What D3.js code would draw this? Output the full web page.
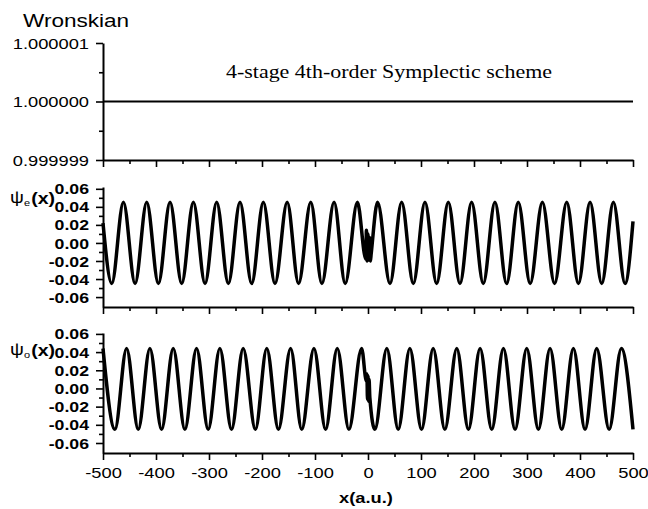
<!DOCTYPE html>
<html>
<head>
<meta charset="utf-8">
<script src="https://cdn.jsdelivr.net/npm/d3@7"></script>
<style>
body { margin: 0; background: #fff; }
svg { display: block; }
text { font-family: "Liberation Sans", Arial, sans-serif; fill: #000; }
</style>
</head>
<body>
<svg></svg>
<script>
// ---- data ----
var wronX = [-500, 500]
var wronY = [1.000000, 1.000000]
var wronTicks = [0.999999, 1.000000, 1.000001]
var wronMinor = [0.9999995, 1.0000005]

// even solution: extrema + the small glitch near x = 0
var psiEx = [-500, -483.5, -461.5, -439.5, -417.5, -395.5, -373.5, -351.5, -329.5, -307.5,
             -285.5, -263.5, -241.5, -219.5, -197.5, -175.5, -152.5, -131, -108, -87,
             -64, -43, -20, -4, -3, -1.5, 0, 1.5, 3, 4.5, 6,
             18, 41.5, 63.5, 85.5, 107.5, 129.5, 151.5, 173.5, 195.5, 217.5,
             239.5, 261.5, 283.5, 306, 329, 352, 375, 397, 419, 441, 463, 485, 500]
var psiEy = [0.022, -0.045, 0.045, -0.045, 0.045, -0.045, 0.045, -0.045, 0.045, -0.045,
             0.045, -0.045, 0.045, -0.045, 0.045, -0.045, 0.045, -0.045, 0.045, -0.045,
             0.045, -0.045, 0.045, -0.018, 0.014, -0.020, 0.010, -0.019, 0.006, -0.020, -0.012,
             0.045, -0.045, 0.045, -0.045, 0.045, -0.045, 0.045, -0.045, 0.045, -0.045,
             0.045, -0.045, 0.045, -0.045, 0.045, -0.045, 0.045, -0.045, 0.045, -0.045, 0.045, -0.045, 0.024]

// odd solution
var psiOx = [-500, -477.5, -455.5, -433.5, -411.5, -389.5, -367.5, -345.5, -323.5, -301.5,
             -279.5, -257.5, -235.5, -212.5, -191, -169, -146, -125, -102, -80,
             -58, -36, -12, -3, -2, -1, 0, 1, 2, 3.5,
             13, 35.5, 57, 79, 101, 123, 145, 167.5, 189.5, 211.5,
             233.5, 255.5, 277.5, 299.5, 321.5, 343.5, 365.5, 387.5, 409.5, 431.5,
             455, 478, 500]
var psiOy = [0.044, -0.045, 0.044, -0.045, 0.044, -0.045, 0.044, -0.045, 0.044, -0.045,
             0.044, -0.045, 0.044, -0.045, 0.044, -0.045, 0.044, -0.045, 0.044, -0.045,
             0.044, -0.045, 0.044, 0.008, 0.016, -0.012, 0.014, -0.014, 0.010, -0.010,
             -0.045, 0.044, -0.045, 0.044, -0.045, 0.044, -0.045, 0.044, -0.045, 0.044,
             -0.045, 0.044, -0.045, 0.044, -0.045, 0.044, -0.045, 0.044, -0.045, 0.044,
             -0.045, 0.044, -0.045]

var psiTicks = [-0.06, -0.04, -0.02, 0, 0.02, 0.04, 0.06]
var psiMinor = [-0.05, -0.03, -0.01, 0.01, 0.03, 0.05]
var xTicks = [-500, -400, -300, -200, -100, 0, 100, 200, 300, 400, 500]
var xMinor = [-450, -350, -250, -150, -50, 50, 150, 250, 350, 450]

// ---- layout ----
var screen = {width: 648, height: 509}
var stretch = 1.22   // the original lettering is wide

var svg = d3.select("svg")
    .attr("width", screen.width)
    .attr("height", screen.height)

// plain hyphen for negatives, like the original
var hyphen = d3.formatLocale({decimal: ".", thousands: ",", grouping: [3], currency: ["", ""], minus: "-"})

var xScale = d3.scaleLinear().domain([-500, 500]).range([103, 633])

var yTop = d3.scaleLinear().domain([0.999999, 1.000001]).range([160, 43])
var yMid = d3.scaleLinear().domain([-0.071, 0.062]).range([307, 187])
var yBot = d3.scaleLinear().domain([-0.071, 0.061]).range([453, 333])

var drawPanel = function(yScale, ticks, minor, fmt, bold, showX)
{
    var bottom = yScale.range()[0]

    // minor ticks first so the axis line sits on top
    svg.append("g")
        .attr("class", "minor")
        .attr("transform", "translate(" + xScale.range()[0] + ",0)")
        .call(d3.axisLeft(yScale).tickValues(minor).tickSize(4).tickFormat(""))

    svg.append("g")
        .attr("class", "minor")
        .attr("transform", "translate(0," + bottom + ")")
        .call(d3.axisBottom(xScale).tickValues(xMinor).tickSize(4).tickFormat(""))

    var yAxis = svg.append("g")
        .attr("class", "major")
        .attr("transform", "translate(" + xScale.range()[0] + ",0)")
        .call(d3.axisLeft(yScale).tickValues(ticks).tickSize(7).tickSizeOuter(0).tickFormat(fmt))

    yAxis.selectAll("text")
        .attr("x", 0)
        .attr("dy", "0.35em")
        .attr("transform", "translate(-14,0) scale(" + stretch + ",1)")
        .style("font-size", bold ? "14.5px" : "15px")
        .style("font-weight", bold ? "bold" : "normal")

    var xAxis = svg.append("g")
        .attr("class", "major")
        .attr("transform", "translate(0," + bottom + ")")
        .call(d3.axisBottom(xScale).tickValues(xTicks).tickSize(7).tickSizeOuter(0)
            .tickFormat(showX ? hyphen.format("d") : ""))

    xAxis.selectAll("text")
        .attr("y", 0)
        .attr("dy", 0)
        .attr("transform", "translate(0,25) scale(" + stretch + ",1)")
        .style("font-size", "15px")

    svg.selectAll(".major path.domain")
        .attr("stroke", "#000")
        .attr("stroke-width", 2)
    svg.selectAll(".minor path.domain").remove()
    svg.selectAll(".tick line")
        .attr("stroke", "#000")
        .attr("stroke-width", 1.6)
}

drawPanel(yTop, wronTicks, wronMinor, hyphen.format(".6f"), false, false)
drawPanel(yMid, psiTicks, psiMinor, hyphen.format(".2f"), true, false)
drawPanel(yBot, psiTicks, psiMinor, hyphen.format(".2f"), true, true)

// ---- curves ----
var lineFor = function(yScale)
{
    return d3.line()
        .x(function(d) { return xScale(d[0]) })
        .y(function(d) { return yScale(d[1]) })
        .curve(d3.curveMonotoneX)
}

svg.append("path")
    .datum(d3.zip(wronX, wronY))
    .attr("d", lineFor(yTop))
    .attr("fill", "none")
    .attr("stroke", "#000")
    .attr("stroke-width", 2)

svg.append("path")
    .datum(d3.zip(psiEx, psiEy))
    .attr("d", lineFor(yMid))
    .attr("fill", "none")
    .attr("stroke", "#000")
    .attr("stroke-width", 3.5)
    .attr("stroke-linejoin", "round")

svg.append("path")
    .datum(d3.zip(psiOx, psiOy))
    .attr("d", lineFor(yBot))
    .attr("fill", "none")
    .attr("stroke", "#000")
    .attr("stroke-width", 3.5)
    .attr("stroke-linejoin", "round")

// ---- labels ----
svg.append("text")
    .attr("transform", "translate(23,27) scale(" + stretch + ",1)")
    .style("font-size", "18.5px")
    .text("Wronskian")

svg.append("text")
    .attr("transform", "translate(389,78) scale(" + stretch + ",1)")
    .attr("text-anchor", "middle")
    .style("font-family", "'Liberation Serif', 'Times New Roman', serif")
    .style("font-size", "18px")
    .text("4-stage 4th-order Symplectic scheme")

var psiLabel = function(sub, y)
{
    var t = svg.append("text")
        .attr("transform", "translate(10," + y + ") scale(" + stretch + ",1)")
        .style("font-size", "16px")
    t.append("tspan").attr("dy", -1).text("\u03c8")
    t.append("tspan").attr("dy", 3).style("font-size", "9px").text(sub)
    t.append("tspan").attr("dy", -2).attr("dx", 1).style("font-weight", "bold").text("(x)")
}
psiLabel("e", 204)
psiLabel("o", 356)

svg.append("text")
    .attr("transform", "translate(366,503) scale(" + stretch + ",1)")
    .attr("text-anchor", "middle")
    .style("font-size", "15px")
    .style("font-weight", "bold")
    .text("x(a.u.)")
</script>
</body>
</html>
